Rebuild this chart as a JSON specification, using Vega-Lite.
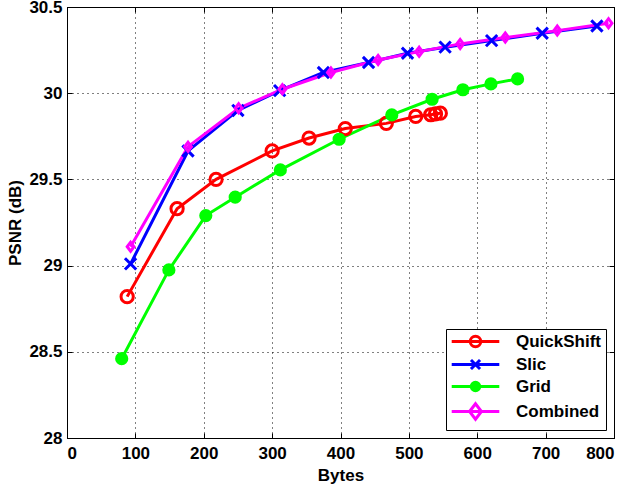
{
  "$schema": "https://vega.github.io/schema/vega-lite/v6.json",
  "width": 547,
  "height": 431,
  "autosize": {"type": "none"},
  "padding": {"left": 67, "top": 7, "right": 16, "bottom": 48},
  "background": "white",
  "config": {
    "view": {"stroke": "black", "strokeWidth": 1},
    "axis": {
      "domainColor": "black",
      "tickColor": "black",
      "tickSize": -5,
      "labelFont": "Liberation Sans",
      "labelFontWeight": "bold",
      "labelFontSize": 17,
      "labelColor": "black",
      "titleFont": "Liberation Sans",
      "titleFontWeight": "bold",
      "titleFontSize": 17,
      "titleColor": "black",
      "gridColor": "black",
      "gridDash": [1, 4],
      "gridOpacity": 1
    }
  },
  "data": {
    "values": [
      {"series": "QuickShift", "bytes": 88, "psnr": 28.82},
      {"series": "QuickShift", "bytes": 161, "psnr": 29.33},
      {"series": "QuickShift", "bytes": 218, "psnr": 29.5},
      {"series": "QuickShift", "bytes": 300, "psnr": 29.665},
      {"series": "QuickShift", "bytes": 354, "psnr": 29.74},
      {"series": "QuickShift", "bytes": 407, "psnr": 29.795},
      {"series": "QuickShift", "bytes": 467, "psnr": 29.825},
      {"series": "QuickShift", "bytes": 510, "psnr": 29.865},
      {"series": "QuickShift", "bytes": 532, "psnr": 29.875},
      {"series": "QuickShift", "bytes": 539, "psnr": 29.88},
      {"series": "QuickShift", "bytes": 546, "psnr": 29.884},
      {"series": "Slic", "bytes": 93, "psnr": 29.01},
      {"series": "Slic", "bytes": 177, "psnr": 29.665},
      {"series": "Slic", "bytes": 250, "psnr": 29.9},
      {"series": "Slic", "bytes": 311, "psnr": 30.015},
      {"series": "Slic", "bytes": 375, "psnr": 30.12},
      {"series": "Slic", "bytes": 441, "psnr": 30.178},
      {"series": "Slic", "bytes": 498, "psnr": 30.232},
      {"series": "Slic", "bytes": 553, "psnr": 30.267},
      {"series": "Slic", "bytes": 621, "psnr": 30.305},
      {"series": "Slic", "bytes": 695, "psnr": 30.348},
      {"series": "Slic", "bytes": 775, "psnr": 30.39},
      {"series": "Grid", "bytes": 80, "psnr": 28.46},
      {"series": "Grid", "bytes": 149, "psnr": 28.975},
      {"series": "Grid", "bytes": 203, "psnr": 29.29},
      {"series": "Grid", "bytes": 246, "psnr": 29.397},
      {"series": "Grid", "bytes": 312, "psnr": 29.555},
      {"series": "Grid", "bytes": 398, "psnr": 29.733},
      {"series": "Grid", "bytes": 475, "psnr": 29.874},
      {"series": "Grid", "bytes": 534, "psnr": 29.965},
      {"series": "Grid", "bytes": 579, "psnr": 30.02},
      {"series": "Grid", "bytes": 620, "psnr": 30.054},
      {"series": "Grid", "bytes": 659, "psnr": 30.083},
      {"series": "Combined", "bytes": 93, "psnr": 29.11},
      {"series": "Combined", "bytes": 177, "psnr": 29.69},
      {"series": "Combined", "bytes": 251, "psnr": 29.913},
      {"series": "Combined", "bytes": 315, "psnr": 30.023},
      {"series": "Combined", "bytes": 386, "psnr": 30.12},
      {"series": "Combined", "bytes": 455, "psnr": 30.193},
      {"series": "Combined", "bytes": 515, "psnr": 30.241},
      {"series": "Combined", "bytes": 575, "psnr": 30.286},
      {"series": "Combined", "bytes": 641, "psnr": 30.323},
      {"series": "Combined", "bytes": 717, "psnr": 30.363},
      {"series": "Combined", "bytes": 792, "psnr": 30.406}
    ]
  },
  "layer": [
    {
      "mark": {"type": "line", "strokeWidth": 3},
      "encoding": {
        "x": {"field": "bytes", "type": "quantitative",
              "scale": {"domain": [0, 800], "nice": false},
              "axis": {"orient": "bottom", "title": "Bytes", "values": [0,100,200,300,400,500,600,700,800], "labelPadding": 12, "titlePadding": 6}},
        "y": {"field": "psnr", "type": "quantitative",
              "scale": {"domain": [28, 30.5], "nice": false, "zero": false},
              "axis": {"orient": "left", "title": "PSNR (dB)", "values": [28, 28.5, 29, 29.5, 30, 30.5], "format": "~g", "labelPadding": 10, "titlePadding": 4}},
        "color": {"field": "series", "type": "nominal",
                  "scale": {"domain": ["QuickShift", "Slic", "Grid", "Combined"], "range": ["#ff0000", "#0000ff", "#00ff00", "#ff00ff"]},
                  "legend": null}
      }
    },
    {
      "mark": {"type": "point", "strokeWidth": 3, "opacity": 1},
      "encoding": {
        "x": {"field": "bytes", "type": "quantitative", "axis": null},
        "y": {"field": "psnr", "type": "quantitative", "axis": null},
        "stroke": {"field": "series", "type": "nominal",
                   "scale": {"domain": ["QuickShift", "Slic", "Grid", "Combined"], "range": ["#ff0000", "#0000ff", "#00ff00", "#ff00ff"]},
                   "legend": null},
        "fill": {"field": "series", "type": "nominal",
                 "scale": {"domain": ["QuickShift", "Slic", "Grid", "Combined"], "range": ["transparent", "transparent", "#00ff00", "transparent"]},
                 "legend": null},
        "shape": {"field": "series", "type": "nominal",
                  "scale": {"domain": ["QuickShift", "Slic", "Grid", "Combined"], "range": ["circle", "M-1,-1L1,1M-1,1L1,-1", "circle", "M-0.75,0L0,-1L0.75,0L0,1Z"]},
                  "legend": null},
        "size": {"field": "series", "type": "ordinal",
                 "scale": {"domain": ["QuickShift", "Slic", "Grid", "Combined"], "range": [150, 81, 100, 340]},
                 "legend": null}
      }
    },
    {
      "mark": {"type": "point", "strokeWidth": 3, "opacity": 0, "size": 196},
      "encoding": {
        "x": {"field": "bytes", "type": "quantitative",
              "axis": {"orient": "top", "labels": false, "title": null, "grid": false, "domain": false, "values": [0,100,200,300,400,500,600,700,800]}},
        "y": {"field": "psnr", "type": "quantitative",
              "axis": {"orient": "right", "labels": false, "title": null, "grid": false, "domain": false, "values": [28, 28.5, 29, 29.5, 30, 30.5]}},
        "stroke": {"field": "series", "type": "nominal",
                   "scale": {"domain": ["QuickShift", "Slic", "Grid", "Combined"], "range": ["#ff0000", "#0000ff", "#00ff00", "#ff00ff"]},
                   "legend": {
                     "title": null, "orient": "bottom-right", "offset": 8,
                     "strokeColor": "black", "fillColor": "white", "padding": 4,
                     "labelFont": "Liberation Sans", "labelFontWeight": "bold", "labelFontSize": 17, "labelColor": "black",
                     "symbolOpacity": 1, "symbolStrokeWidth": 3, "symbolSize": 196, "symbolOffset": 17, "labelOffset": 32, "rowPadding": 0, "cornerRadius": 0
                   }},
        "shape": {"field": "series", "type": "nominal",
                  "scale": {"domain": ["QuickShift", "Slic", "Grid", "Combined"],
                            "range": [
                              "M-3.4,0H3.4M-0.75,0A0.75,0.75 0 1 0 0.75,0A0.75,0.75 0 1 0 -0.75,0",
                              "M-3.4,0H3.4M-0.65,-0.65L0.65,0.65M-0.65,0.65L0.65,-0.65",
                              "M-3.4,0H3.4M-0.6,0A0.6,0.6 0 1 0 0.6,0A0.6,0.6 0 1 0 -0.6,0M-0.25,0A0.25,0.25 0 1 0 0.25,0A0.25,0.25 0 1 0 -0.25,0",
                              "M-3.4,0H3.4M-0.85,0L0,-1.1L0.85,0L0,1.1Z"
                            ]}}
      }
    }
  ],
  "resolve": {
    "scale": {"color": "independent", "stroke": "independent", "fill": "independent", "shape": "independent", "size": "independent"},
    "axis": {"x": "independent", "y": "independent"}
  }
}
